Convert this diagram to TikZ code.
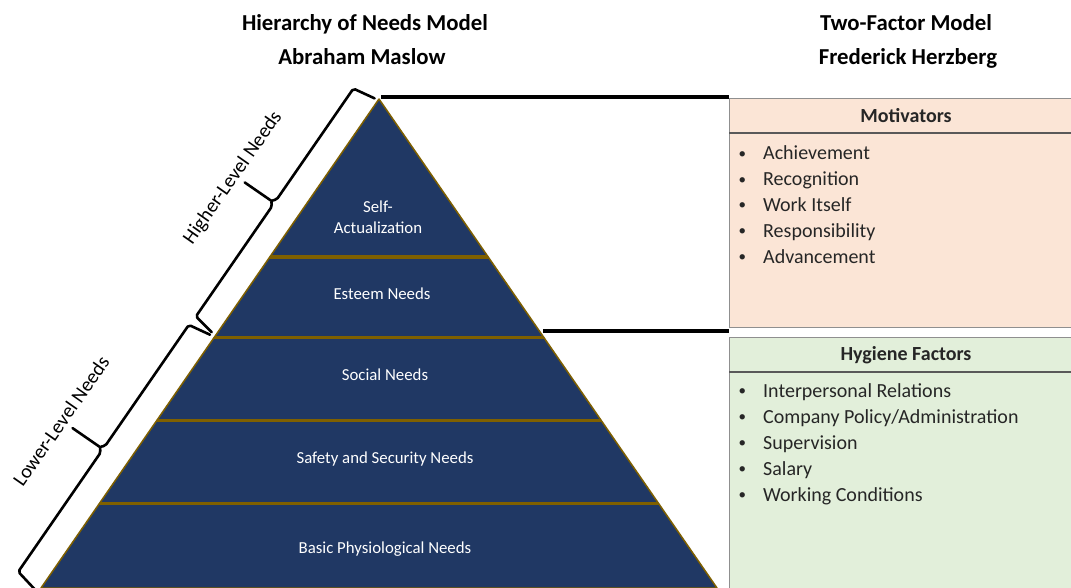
\documentclass[tikz,border=0pt]{standalone}
\usepackage{fontspec}
\setmainfont{Carlito}
\definecolor{navy}{HTML}{203864}
\definecolor{gold}{HTML}{7F6000}
\definecolor{peach}{HTML}{FBE5D6}
\definecolor{sage}{HTML}{E2EFDA}
\definecolor{frame}{HTML}{8F8F8F}
\definecolor{rule}{HTML}{595959}
\definecolor{ink}{HTML}{262626}
\newcommand{\dotmark}{\raisebox{1.6pt}{\fontsize{15}{18}\selectfont•}}
\begin{document}
\begin{tikzpicture}[x=1pt,y=-1pt,
  title/.style={font=\fontsize{22.8}{28}\selectfont\bfseries, anchor=base, inner sep=0},
  level/.style={font=\fontsize{16.8}{20}\selectfont, text=white, anchor=base, inner sep=0},
  side/.style={font=\fontsize{20}{24}\selectfont, rotate=55, inner sep=0},
  head/.style={font=\fontsize{20}{24}\selectfont\bfseries, anchor=base, inner sep=0, text=ink},
  item/.style={font=\fontsize{20}{24}\selectfont, anchor=base west, inner sep=0, text=ink},
  bracket/.style={line width=2.6pt, line join=round, line cap=round, rounded corners=2pt},
  link/.style={line width=3.5pt},
  panel/.style={draw=frame, line width=1.4pt, anchor=north west, inner sep=0, minimum width=360pt},
  divider/.style={draw=rule, line width=1.4pt}]

\useasboundingbox (0,0) rectangle (1071,588);
\clip (0,0) rectangle (1071,588);

% column titles
\node[title] (mtitleA) at (365,31) {Hierarchy of Needs Model};
\node[title] (mtitleB) at (362,65) {Abraham Maslow};
\node[title] (htitleA) at (906,31) {Two-Factor Model};
\node[title] (htitleB) at (908,65) {Frederick Herzberg};

% pyramid corners
\coordinate (apex) at (379,99);
\coordinate (baseL) at (41,588);
\coordinate (baseR) at (717,588);

% pyramid body and level separators
\fill[navy] (apex) -- (baseL) -- (baseR) -- cycle;
\begin{scope}
  \clip (apex) -- (baseL) -- (baseR) -- cycle;
  \foreach \y in {257,337,420,503}
    \draw[gold, line width=3pt] (0,\y) -- (800,\y);
\end{scope}
\draw[gold, line width=1.5pt, line join=round] (apex) -- (baseL) -- (baseR) -- cycle;

% level labels
\node[level] (selfA) at (378,213) {Self-};
\node[level] (selfB) at (378,234) {Actualization};
\node[level] (esteem) at (382,299) {Esteem Needs};
\node[level] (social) at (385,380) {Social Needs};
\node[level] (safety) at (385,463) {Safety and Security Needs};
\node[level] (basic) at (385,553) {Basic Physiological Needs};

% brackets along the left face (s along the face, d outward)
\begin{scope}[shift={(apex)}, rotate=235.35]
  \draw[bracket] (2,4) -- (6,27) -- (141,27) -- (145,31) -- (149,27) -- (283,27) -- (287,5);
  \draw[bracket] (145,31) -- (145,63);
  \draw[bracket] (290,5) -- (294,28) -- (441,28) -- (445,32) -- (449,28) -- (594,28) -- (599,5);
  \draw[bracket] (445,32) -- (445,65);
\end{scope}
\node[side] (higher) at (233,178) {Higher-Level Needs};
\node[side] (lower) at (61,421) {Lower-Level Needs};

% Herzberg panels
\node[panel, fill=peach, minimum height=229pt] (mot) at (729,98) {};
\draw[divider] ([yshift=-35pt]mot.north west) -- ([yshift=-35pt]mot.north east);
\node[panel, fill=sage, minimum height=262pt] (hyg) at (729,337) {};
\draw[divider] ([yshift=-35pt]hyg.north west) -- ([yshift=-35pt]hyg.north east);

\node[head] (mothead) at (906,123) {Motivators};
\node[head] (hyghead) at (906,360.5) {Hygiene Factors};

\foreach \t [count=\i] in {Achievement, Recognition, Work Itself, Responsibility, Advancement} {
  \node[item] (motb\i) at (738.5,{160+25.8*(\i-1)}) {\dotmark};
  \node[item] (moti\i) at (763,{160+25.8*(\i-1)}) {\t};
}
\foreach \t [count=\i] in {Interpersonal Relations, Company Policy/Administration, Supervision, Salary, Working Conditions} {
  \node[item] (hygb\i) at (738.5,{397+26.1*(\i-1)}) {\dotmark};
  \node[item] (hygi\i) at (763,{397+26.1*(\i-1)}) {\t};
}

% links from the pyramid to the panels
\coordinate (split) at (543,331);
\draw[link] ([xshift=2pt]apex |- 0,97) -- (mot.north west |- 0,97);
\draw[link] (split) -- (mot.west |- split);
\end{tikzpicture}
\end{document}
